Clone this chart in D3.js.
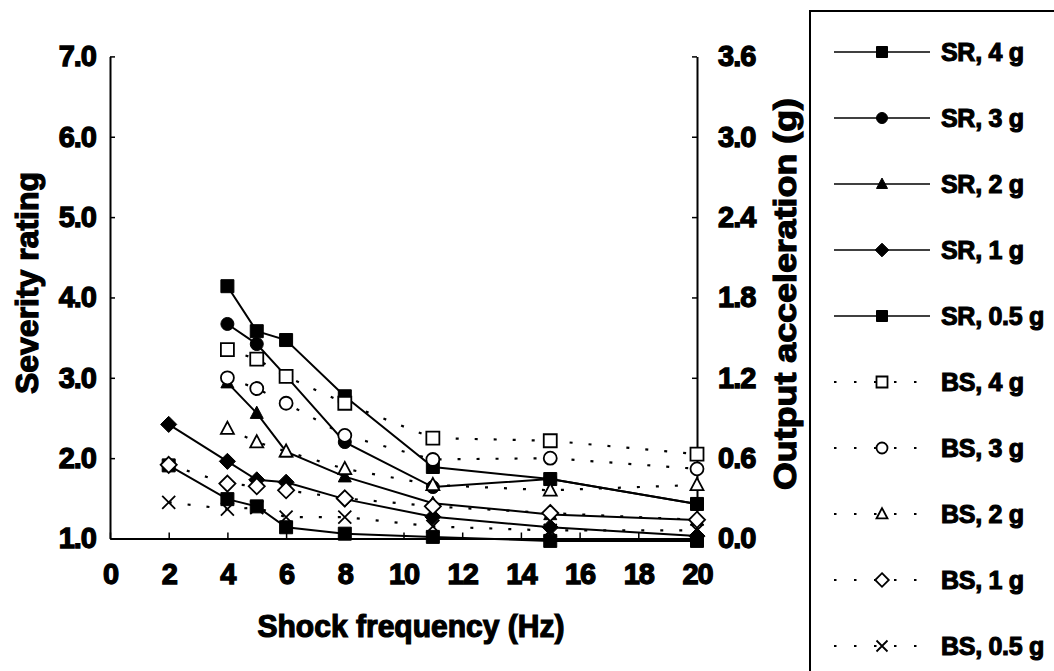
<!DOCTYPE html>
<html>
<head>
<meta charset="utf-8">
<script src="https://cdn.jsdelivr.net/npm/d3@7"></script>
<style>
  html, body { margin: 0; padding: 0; background: #fff; }
  svg { display: block; }
  text { font-family: "Liberation Sans", Arial, Helvetica, sans-serif; font-weight: bold; fill: #000; }
</style>
</head>
<body>
<svg id="chart" width="1054" height="671"></svg>
<script>
// Shock frequencies (Hz) at which responses were recorded
const freqs = [2, 4, 5, 6, 8, 11, 15, 20];

// Severity ratings (left axis), null where a level was not tested
const sr4  = [null, 4.14, 3.58, 3.47, 2.77, 1.89, 1.74, 1.43];
const sr3  = [null, 3.67, 3.42, 3.02, 2.20, 1.64, 1.74, 1.43];
const sr2  = [null, 2.94, 2.56, 2.08, 1.77, 1.44, 1.30, 1.23];
const sr1  = [2.42, 1.96, 1.73, 1.70, 1.49, 1.27, 1.14, 1.03];
const sr05 = [1.91, 1.49, 1.40, 1.14, 1.06, 1.02, 0.97, 0.97];

// Output acceleration in g (right axis)
const bs4  = [null, 1.41, 1.34, 1.21, 1.01, 0.75, 0.73, 0.63];
const bs3  = [null, 1.20, 1.12, 1.01, 0.77, 0.59, 0.60, 0.52];
const bs2  = [null, 0.82, 0.72, 0.65, 0.52, 0.40, 0.36, 0.40];
const bs1  = [0.55, 0.41, 0.39, 0.36, 0.30, 0.24, 0.19, 0.14];
const bs05 = [0.27, 0.22, 0.23, 0.16, 0.16, 0.09, 0.06, 0.06];

// Axis ticks and titles
const xTicks = [0, 2, 4, 6, 8, 10, 12, 14, 16, 18, 20];
const yLeftTicks = [1, 2, 3, 4, 5, 6, 7];
const yRightTicks = [0, 0.6, 1.2, 1.8, 2.4, 3.0, 3.6];
const xTitle = "Shock frequency (Hz)";
const yLeftTitle = "Severity rating";
const yRightTitle = "Output acceleration (g)";

const seriesNames = ["SR, 4 g", "SR, 3 g", "SR, 2 g", "SR, 1 g", "SR, 0.5 g",
                     "BS, 4 g", "BS, 3 g", "BS, 2 g", "BS, 1 g", "BS, 0.5 g"];

const svg = d3.select("#chart");

const x = d3.scaleLinear().domain([0, 20]).range([110, 697]);
const yL = d3.scaleLinear().domain([1, 7]).range([538.5, 56.4]);
const yR = d3.scaleLinear().domain([0, 3.6]).range([538.5, 56.4]);

// Marker path generators, centred on 0,0
const markers = {
  square:  s => `M${-s/2},${-s/2}h${s}v${s}h${-s}Z`,
  circle:  s => { const r = s/2; return `M${r},0A${r},${r} 0 1 1 ${-r},0A${r},${r} 0 1 1 ${r},0Z`; },
  triangle: s => { const h = s*0.9; return `M0,${-h*0.6}L${s/2},${h*0.45}L${-s/2},${h*0.45}Z`; },
  diamond: s => { const d = s*0.62; return `M0,${-d}L${d},0L0,${d}L${-d},0Z`; },
  cross:   s => { const d = s/2; return `M${-d},${-d}L${d},${d}M${d},${-d}L${-d},${d}`; }
};

const series = [
  { name: seriesNames[0], vals: sr4,  axis: yL, shape: "square",   filled: true },
  { name: seriesNames[1], vals: sr3,  axis: yL, shape: "circle",   filled: true },
  { name: seriesNames[2], vals: sr2,  axis: yL, shape: "triangle", filled: true },
  { name: seriesNames[3], vals: sr1,  axis: yL, shape: "diamond",  filled: true },
  { name: seriesNames[4], vals: sr05, axis: yL, shape: "square",   filled: true },
  { name: seriesNames[5], vals: bs4,  axis: yR, shape: "square",   filled: false },
  { name: seriesNames[6], vals: bs3,  axis: yR, shape: "circle",   filled: false },
  { name: seriesNames[7], vals: bs2,  axis: yR, shape: "triangle", filled: false },
  { name: seriesNames[8], vals: bs1,  axis: yR, shape: "diamond",  filled: false },
  { name: seriesNames[9], vals: bs05, axis: yR, shape: "cross",    filled: false }
];

function applyMarker(sel, s, size) {
  sel.attr("d", markers[s.shape](size))
    .attr("fill", s.shape === "cross" ? "none" : (s.filled ? "#000" : "#fff"))
    .attr("stroke", "#000")
    .attr("stroke-width", s.filled ? 1 : 1.8);
}

// Axes
const axisStyle = g => {
  g.selectAll("path.domain").attr("stroke", "#000").attr("stroke-width", 2).attr("fill", "none");
  g.selectAll(".tick line").attr("stroke", "#000").attr("stroke-width", 1.5);
  g.selectAll(".tick text")
    .attr("font-size", 29).attr("font-family", "'Liberation Sans', Arial, sans-serif")
    .attr("font-weight", "bold").attr("fill", "#000")
    .attr("stroke", "#000").attr("stroke-width", 1.3)
    .attr("letter-spacing", -1);
};

svg.append("g")
  .attr("transform", `translate(0,${yL(1)})`)
  .call(d3.axisBottom(x).tickValues(xTicks).tickSizeInner(-6).tickSizeOuter(0).tickPadding(25).tickFormat(d3.format("d")))
  .call(axisStyle);

svg.append("g")
  .attr("transform", `translate(${x(0)},0)`)
  .call(d3.axisLeft(yL).tickValues(yLeftTicks).tickSizeInner(-5).tickSizeOuter(0).tickPadding(14).tickFormat(d3.format(".1f")))
  .call(axisStyle);

svg.append("g")
  .attr("transform", `translate(${x(20)},0)`)
  .call(d3.axisRight(yR).tickValues(yRightTicks).tickSizeInner(-5).tickSizeOuter(0).tickPadding(21).tickFormat(d3.format(".1f")))
  .call(axisStyle);

// Axis titles
const titleAttrs = t => t.attr("font-size", 31).attr("stroke", "#000").attr("stroke-width", 1.2)
  .attr("text-anchor", "middle").attr("lengthAdjust", "spacingAndGlyphs");

svg.append("text").text(xTitle)
  .attr("x", 411).attr("y", 637)
  .call(titleAttrs).attr("textLength", 307);

svg.append("text").text(yLeftTitle)
  .attr("transform", "translate(38,283) rotate(-90)")
  .call(titleAttrs).attr("textLength", 222);

svg.append("text").text(yRightTitle)
  .attr("transform", "translate(796,294) rotate(-90)")
  .call(titleAttrs).attr("textLength", 392);

// Series lines
const plot = svg.append("g");
series.forEach(s => {
  const pts = freqs.map((f, i) => [f, s.vals[i]]).filter(p => p[1] !== null);
  const line = d3.line().x(p => x(p[0])).y(p => s.axis(p[1]));
  plot.append("path")
    .attr("d", line(pts))
    .attr("fill", "none")
    .attr("stroke", "#000")
    .attr("stroke-width", s.filled ? 2 : 2.2)
    .attr("stroke-dasharray", s.filled ? null : "3,16");
});

// Markers: solid series first, open series on top
series.forEach(s => {
  const pts = freqs.map((f, i) => [f, s.vals[i]]).filter(p => p[1] !== null);
  plot.append("g").selectAll("path")
    .data(pts).join("path")
    .attr("transform", p => `translate(${x(p[0])},${s.axis(p[1])})`)
    .each(function () { applyMarker(d3.select(this), s, 13); });
});

// Legend
const legend = svg.append("g");
legend.append("rect")
  .attr("x", 810).attr("y", 11).attr("width", 260).attr("height", 680)
  .attr("fill", "none").attr("stroke", "#000").attr("stroke-width", 2);

const rowY = d3.scaleLinear().domain([0, 9]).range([52, 646]);
series.forEach((s, i) => {
  const g = legend.append("g").attr("transform", `translate(0,${rowY(i)})`);
  g.append("line")
    .attr("x1", 834).attr("x2", s.filled ? 930 : 918)
    .attr("y1", 0).attr("y2", 0)
    .attr("stroke", "#000")
    .attr("stroke-width", s.filled ? 1.6 : 1.8)
    .attr("stroke-dasharray", s.filled ? null : "2.5,17.5");
  g.append("path")
    .attr("transform", "translate(882,0)")
    .each(function () { applyMarker(d3.select(this), s, 11); });
  g.append("text").text(s.name)
    .attr("x", 941).attr("y", 9)
    .attr("font-size", 25).attr("stroke", "#000").attr("stroke-width", 1.1)
    .attr("letter-spacing", -0.3);
});
</script>
</body>
</html>
